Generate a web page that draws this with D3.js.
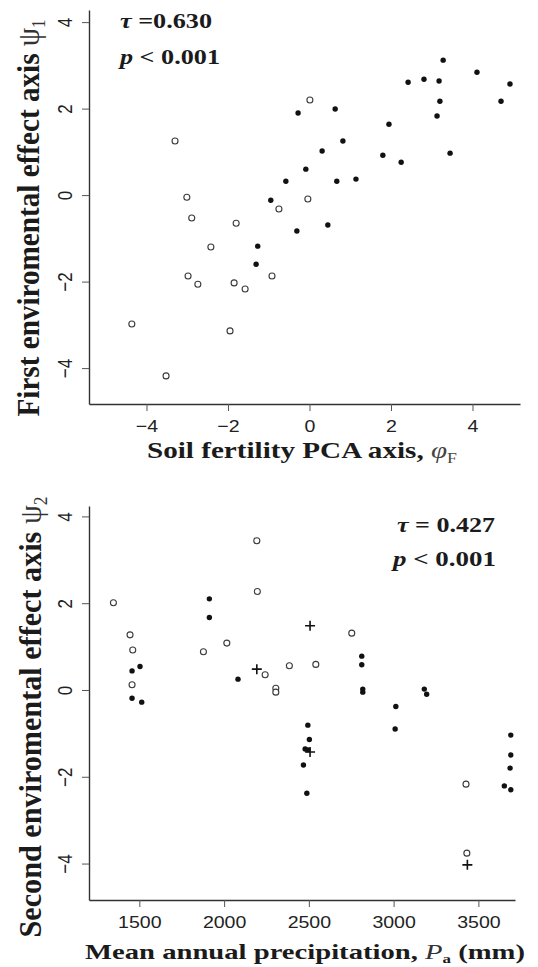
<!DOCTYPE html>
<html><head><meta charset="utf-8">
<script src="https://cdn.jsdelivr.net/npm/d3@7"></script>
<style>body{margin:0;background:#fff}</style>
</head><body>
<svg id="c" width="538" height="967" xmlns="http://www.w3.org/2000/svg"></svg>
<script>
// ---------- data ----------
const topXTicks = [-4, -2, 0, 2, 4];
const topYTicks = [-4, -2, 0, 2, 4];
const bottomXTicks = [1500, 2000, 2500, 3000, 3500];
const bottomYTicks = [-4, -2, 0, 2, 4];

// top panel: soil fertility PCA axis (phi_F) vs first environmental effect axis (psi_1)
const topOpen = [[-3.30,1.25],[0.01,2.20],[-3.01,-0.05],[-2.89,-0.53],[-1.80,-0.65],[-2.42,-1.20],
  [-2.98,-1.87],[-2.74,-2.06],[-1.85,-2.03],[-1.58,-2.17],[-0.92,-1.87],[-4.36,-2.98],
  [-1.95,-3.14],[-3.52,-4.18],[-0.75,-0.32],[-0.04,-0.09]];
const topFilled = [[-0.28,1.90],[0.63,1.99],[-1.27,-1.18],[-1.31,-1.60],[-0.31,-0.83],[0.45,-0.69],
  [-0.95,-0.12],[-0.58,0.32],[-0.09,0.60],[0.67,0.32],[1.14,0.37],[0.31,1.02],[0.82,1.25],
  [1.80,0.92],[2.25,0.76],[1.95,1.64],[3.13,1.83],[3.20,2.17],[4.70,2.17],[2.42,2.61],
  [2.81,2.68],[3.18,2.64],[3.28,3.12],[4.11,2.84],[4.92,2.57],[3.45,0.97]];

// bottom panel: mean annual precipitation (mm) vs second environmental effect axis (psi_2)
const bottomOpen = [[1347,2.01],[1445,1.27],[1461,0.92],[1457,0.12],[1878,0.88],[2016,1.08],
  [2193,3.44],[2196,2.27],[2242,0.35],[2385,0.56],[2305,0.04],[2305,-0.05],[2541,0.59],
  [2753,1.31],[3427,-2.17],[3432,-3.76]];
const bottomFilled = [[1457,0.44],[1504,0.54],[1457,-0.19],[1514,-0.28],[1913,2.10],[1913,1.67],
  [2082,0.25],[2812,0.78],[2812,0.58],[2818,0.02],[2818,-0.05],[3013,-0.38],[3009,-0.90],
  [3181,0.02],[3195,-0.10],[2494,-0.81],[2503,-1.14],[2478,-1.36],[2495,-1.38],[2468,-1.73],
  [2488,-2.38],[3691,-1.04],[3691,-1.50],[3687,-1.80],[3653,-2.21],[3691,-2.30]];
const bottomPlus = [[2193,0.48],[2507,1.48],[2507,-1.43],[3435,-4.03]];

// ---------- drawing ----------
const svg = d3.select("#c");
const ink = "#1b1b1b";

function panel(o) {
  const x = d3.scaleLinear().domain(o.xDomain).range([89, o.xRight]);
  const y = d3.scaleLinear().domain(o.yDomain).range([o.yBottom, o.yTop]);
  const g = svg.append("g");

  const xa = g.append("g").attr("transform", `translate(0,${o.yBottom})`)
    .call(d3.axisBottom(x).tickValues(o.xTicks).tickSize(7).tickSizeOuter(0).tickFormat(o.xFmt));
  const ya = g.append("g").attr("transform", "translate(89,0)")
    .call(d3.axisLeft(y).tickValues(o.yTicks).tickSize(7).tickSizeOuter(0).tickFormat(d3.format("d")));
  [xa, ya].forEach(a => {
    a.select(".domain").attr("stroke", "#333").attr("stroke-width", 1.4);
    a.selectAll(".tick line").attr("stroke", "#555").attr("stroke-width", 1);
    a.selectAll(".tick text").attr("fill", "#222").attr("font-family", "Liberation Sans, Arial, sans-serif")
      .attr("font-size", 17);
  });
  xa.selectAll(".tick text").attr("y", null).attr("dy", null)
    .attr("transform", "translate(0,28) scale(1.15,1)").attr("text-anchor", "middle");
  ya.selectAll(".tick text").attr("x", null).attr("dy", null)
    .attr("transform", "translate(-17,0) scale(1.2,1) rotate(-90)").attr("text-anchor", "middle");

  // points
  g.append("g").selectAll("circle").data(o.open).join("circle")
    .attr("cx", d => x(d[0])).attr("cy", d => y(d[1])).attr("r", 3)
    .attr("fill", "#fff").attr("stroke", "#3a3a3a").attr("stroke-width", 1.1);
  g.append("g").selectAll("circle").data(o.filled).join("circle")
    .attr("cx", d => x(d[0])).attr("cy", d => y(d[1])).attr("r", 2.7)
    .attr("fill", "#111");
  if (o.plus) {
    g.append("g").selectAll("path").data(o.plus).join("path")
      .attr("d", d => { const px = x(d[0]), py = y(d[1]);
        return `M${px-5},${py}H${px+5}M${px},${py-5}V${py+5}`; })
      .attr("stroke", "#111").attr("stroke-width", 1.6);
  }

  // annotation
  const t1 = g.append("text").attr("x", o.ann.x1).attr("y", o.ann.y1)
    .attr("font-family", "Liberation Serif, Times New Roman, serif").attr("font-weight", "bold")
    .attr("font-size", 20).attr("fill", ink)
    .attr("textLength", o.ann.w1).attr("lengthAdjust", "spacingAndGlyphs");
  t1.append("tspan").attr("font-style", "italic").text("τ");
  t1.append("tspan").text(o.ann.tau);
  const t2 = g.append("text").attr("x", o.ann.x2).attr("y", o.ann.y2)
    .attr("font-family", "Liberation Serif, Times New Roman, serif").attr("font-weight", "bold")
    .attr("font-size", 20).attr("fill", ink)
    .attr("textLength", o.ann.w2).attr("lengthAdjust", "spacingAndGlyphs");
  t2.append("tspan").attr("font-style", "italic").text("p");
  t2.append("tspan").text(" < 0.001");

  // x title
  const xt = g.append("text").attr("x", o.xTitle.cx).attr("y", o.xTitle.y).attr("text-anchor", "middle")
    .attr("font-family", "Liberation Serif, Times New Roman, serif").attr("font-weight", "bold")
    .attr("font-size", o.xTitle.fs).attr("fill", ink)
    .attr("textLength", o.xTitle.w).attr("lengthAdjust", "spacingAndGlyphs");
  o.xTitle.parts(xt);

  // y title
  const yt = g.append("text").attr("transform", `translate(${o.yTitle.bx},${o.yTitle.cy}) scale(1.22,1) rotate(-90)`)
    .attr("text-anchor", "middle")
    .attr("font-family", "Liberation Serif, Times New Roman, serif").attr("font-weight", "bold")
    .attr("font-size", 26).attr("fill", ink)
    .attr("textLength", o.yTitle.w).attr("lengthAdjust", "spacingAndGlyphs");
  yt.append("tspan").text(o.yTitle.text + " ");
  yt.append("tspan").attr("font-weight", "normal").attr("fill", "#333").text("ψ");
  yt.append("tspan").attr("font-weight", "normal").attr("font-size", 15).attr("dy", 5).attr("fill", "#333").text(o.yTitle.sub);
}

panel({
  xDomain: [-5.411, 5.166], xRight: 520, yDomain: [-4.83, 4.28], yBottom: 404, yTop: 10,
  xTicks: topXTicks, yTicks: topYTicks, xFmt: d3.format("d"),
  open: topOpen, filled: topFilled,
  ann: {x1: 120, y1: 28, w1: 92, tau: " =0.630", x2: 120, y2: 64, w2: 100},
  xTitle: {cx: 302, y: 458, w: 310, fs: 23, parts: t => {
    t.append("tspan").text("Soil fertility PCA axis, ");
    t.append("tspan").attr("font-weight", "normal").attr("font-style", "italic").attr("fill", "#444").text("φ");
    t.append("tspan").attr("font-weight", "normal").attr("font-size", 14).attr("dy", 5).attr("fill", "#444").text("F");
  }},
  yTitle: {bx: 39, cy: 218, w: 397, text: "First enviromental effect axis", sub: "1"}
});

panel({
  xDomain: [1203, 3716], xRight: 515, yDomain: [-4.84, 4.24], yBottom: 900, yTop: 506,
  xTicks: bottomXTicks, yTicks: bottomYTicks, xFmt: d3.format("d"),
  open: bottomOpen, filled: bottomFilled, plus: bottomPlus,
  ann: {x1: 397, y1: 532, w1: 98, tau: " = 0.427", x2: 393, y2: 566, w2: 103},
  xTitle: {cx: 305, y: 959, w: 440, fs: 22, parts: t => {
    t.append("tspan").text("Mean annual precipitation, ");
    t.append("tspan").attr("font-style", "italic").attr("font-weight", "normal").attr("fill", "#333").text("P");
    t.append("tspan").attr("font-size", 13).attr("dy", 4).text("a");
    t.append("tspan").attr("dy", -4).text(" (mm)");
  }},
  yTitle: {bx: 41, cy: 717, w: 441, text: "Second enviromental effect axis", sub: "2"}
});
</script>
</body></html>
